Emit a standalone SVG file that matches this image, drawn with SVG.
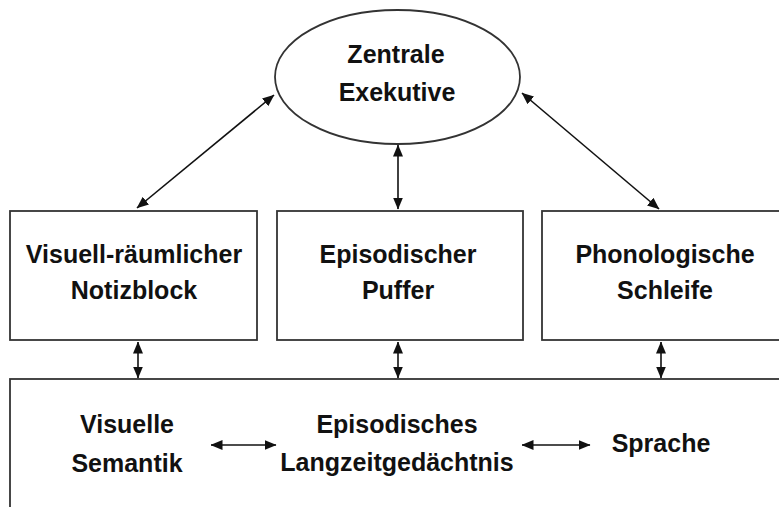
<svg xmlns="http://www.w3.org/2000/svg" width="779" height="507" viewBox="0 0 779 507">
<defs>
<marker id="ah" viewBox="0 0 12 10" refX="11.5" refY="5" markerWidth="12" markerHeight="10" markerUnits="userSpaceOnUse" orient="auto-start-reverse">
<path d="M0,0 L12,5 L0,10 Z" fill="#111"/>
</marker>
</defs>
<style>
.box{fill:#fff;stroke:#333;stroke-width:1.8}
.t{font-family:"Liberation Sans",Arial,sans-serif;font-weight:bold;font-size:25px;fill:#111;text-anchor:middle}
.c{stroke:#111;stroke-width:1.6;fill:none;marker-start:url(#ah);marker-end:url(#ah)}
</style>
<rect width="779" height="507" fill="#fff"/>
<g id="zentrale">
<ellipse class="box" cx="397.5" cy="77" rx="122.5" ry="67"/>
<text class="t" x="396" y="63" font-size="27">Zentrale</text>
<text class="t" x="397" y="101" font-size="27">Exekutive</text>
</g>
<g id="notizblock">
<rect class="box" x="10" y="211" width="247" height="129"/>
<text class="t" x="134" y="263">Visuell-räumlicher</text>
<text class="t" x="134" y="299">Notizblock</text>
</g>
<g id="puffer">
<rect class="box" x="277" y="211" width="246" height="129"/>
<text class="t" x="398" y="263">Episodischer</text>
<text class="t" x="398" y="299">Puffer</text>
</g>
<g id="schleife">
<rect class="box" x="542" y="211" width="250" height="129"/>
<text class="t" x="665" y="263">Phonologische</text>
<text class="t" x="665" y="299">Schleife</text>
</g>
<g id="langzeit">
<rect class="box" x="10" y="379" width="790" height="150"/>
<text class="t" x="127" y="433">Visuelle</text>
<text class="t" x="127" y="472">Semantik</text>
<text class="t" x="397" y="433">Episodisches</text>
<text class="t" x="397" y="471">Langzeitgedächtnis</text>
<text class="t" x="661" y="452">Sprache</text>
</g>
<g id="connectors">
<line class="c" x1="137" y1="208" x2="274" y2="95"/>
<line class="c" x1="398" y1="145" x2="398" y2="209"/>
<line class="c" x1="522" y1="93" x2="659" y2="209"/>
<line class="c" x1="138" y1="342" x2="138" y2="378"/>
<line class="c" x1="398" y1="342" x2="398" y2="378"/>
<line class="c" x1="661" y1="342" x2="661" y2="378"/>
<line class="c" x1="211" y1="445" x2="276" y2="445"/>
<line class="c" x1="522" y1="445" x2="590" y2="445"/>
</g>
</svg>
